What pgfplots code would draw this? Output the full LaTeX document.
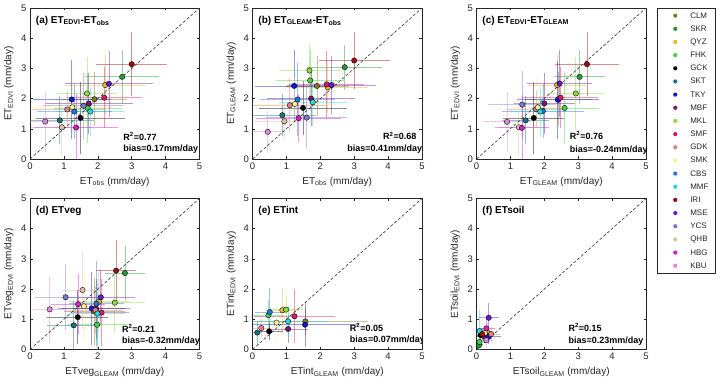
\documentclass[border=0pt]{standalone}
\usepackage{fontspec}
\setmainfont{Liberation Sans}
\usepackage{pgfplots}
\usepackage{pgfplotstable}
\pgfplotsset{compat=1.18}

\definecolor{c0}{rgb}{0.50,0.47,0.15}
\definecolor{c1}{rgb}{0.15,0.60,0.20}
\definecolor{c2}{rgb}{0.93,0.72,0.15}
\definecolor{c3}{rgb}{0.25,0.82,0.25}
\definecolor{c4}{rgb}{0,0,0}
\definecolor{c5}{rgb}{0.10,0.45,0.47}
\definecolor{c6}{rgb}{0.05,0.10,0.80}
\definecolor{c7}{rgb}{0.45,0.10,0.45}
\definecolor{c8}{rgb}{0.55,0.85,0.25}
\definecolor{c9}{rgb}{0.85,0.10,0.40}
\definecolor{c10}{rgb}{0.88,0.50,0.50}
\definecolor{c11}{rgb}{0.98,0.95,0.55}
\definecolor{c12}{rgb}{0.15,0.45,0.85}
\definecolor{c13}{rgb}{0.15,0.85,0.88}
\definecolor{c14}{rgb}{0.60,0.05,0.05}
\definecolor{c15}{rgb}{0.40,0.10,0.80}
\definecolor{c16}{rgb}{0.47,0.47,0.82}
\definecolor{c17}{rgb}{0.87,0.75,0.67}
\definecolor{c18}{rgb}{0.82,0.12,0.80}
\definecolor{c19}{rgb}{0.87,0.52,0.87}
\colorlet{axgray}{black!85}

% (a) ET_EDVI vs ET_obs
\pgfplotstableread{
x y ex ey
1.90 1.98 0.95 0.90
2.72 2.72 1.10 0.90
2.22 2.45 1.20 1.00
1.70 1.69 1.00 1.15
1.49 1.36 1.30 1.20
0.88 1.28 1.00 0.80
1.23 1.97 1.15 1.30
1.73 1.84 1.30 1.00
1.68 2.17 0.90 1.20
2.19 2.03 1.10 1.00
1.10 1.64 1.10 0.60
1.25 1.71 1.20 1.00
1.31 1.57 1.10 0.90
1.78 1.57 1.00 0.80
3.00 3.14 1.05 1.05
2.33 2.49 1.30 1.10
1.58 1.76 1.20 1.10
0.94 1.05 0.90 1.00
1.36 1.04 1.25 1.10
0.45 1.24 0.50 1.00
}\tabA
% (b) ET_GLEAM vs ET_obs
\pgfplotstableread{
x y ex ey
1.90 2.42 0.95 1.00
2.72 3.04 1.10 0.75
2.22 2.38 1.20 0.85
1.70 2.60 1.00 1.00
1.49 1.69 1.30 0.90
0.88 1.45 1.00 0.70
1.23 2.42 1.15 1.20
1.73 2.00 1.30 0.90
1.68 2.93 0.90 0.85
2.19 2.47 1.10 1.10
1.10 1.78 1.10 0.90
1.25 1.82 1.20 0.90
1.33 1.97 1.10 1.20
1.78 1.88 1.00 0.80
3.00 3.26 1.05 0.95
2.33 2.45 1.30 0.95
1.60 1.37 1.20 1.00
0.94 1.25 0.90 0.60
1.36 1.35 1.25 0.80
0.45 0.90 0.50 0.70
}\tabB
% (c) ET_EDVI vs ET_GLEAM
\pgfplotstableread{
x y ex ey
2.42 1.98 1.00 0.90
3.04 2.72 0.75 0.90
2.38 2.45 0.85 1.00
2.60 1.69 1.00 1.15
1.69 1.36 0.90 1.20
1.45 1.28 0.70 0.80
2.40 1.96 1.20 1.30
2.00 1.84 0.90 1.00
2.93 2.17 0.85 1.20
2.48 2.03 1.10 1.00
1.76 1.65 0.90 0.60
1.81 1.71 0.90 1.00
1.96 1.59 1.20 0.90
1.88 1.57 0.80 0.80
3.26 3.14 0.95 1.05
2.45 2.50 0.95 1.10
1.35 1.80 1.00 1.10
1.25 1.05 0.60 1.00
1.34 1.03 0.80 1.10
0.90 1.23 0.70 1.00
}\tabC
% (d) ETveg
\pgfplotstableread{
x y ex ey
1.89 1.26 0.90 1.10
2.80 2.53 0.60 0.90
2.03 1.58 0.90 1.00
1.98 0.82 0.90 1.00
1.41 1.07 0.90 0.90
1.29 0.80 0.80 0.80
1.82 1.36 1.00 1.20
1.95 1.35 1.00 1.00
2.50 1.55 0.90 1.00
2.11 1.22 0.80 1.10
1.93 1.30 0.80 0.80
1.59 1.43 0.90 1.10
1.96 1.52 0.80 1.40
1.99 1.19 0.80 1.00
2.54 2.61 0.60 1.00
2.09 1.73 1.00 0.90
1.05 1.73 0.90 1.10
1.55 1.97 0.60 1.30
1.42 1.50 0.80 1.00
0.58 1.33 0.50 1.10
}\tabD
% (e) ETint
\pgfplotstableread{
x y ex ey
1.56 0.93 1.85 0.45
nan nan nan nan
0.88 1.30 0.50 0.75
0.47 1.14 0.45 0.50
0.49 0.60 0.40 0.30
0.14 0.56 0.15 0.40
1.55 0.82 1.60 0.75
1.05 0.68 0.60 0.45
0.99 1.32 0.50 0.50
1.24 1.10 1.20 0.90
0.26 0.71 0.30 0.30
0.71 0.89 0.50 0.60
0.51 1.24 0.45 0.80
1.05 0.93 1.15 0.50
}\tabE
% (f) ETsoil
\pgfplotstableread{
x y ex ey
0.22 0.50 0.15 0.20
0.07 0.14 0.05 0.15
0.31 0.59 0.15 0.30
0.09 0.25 0.08 0.20
0.12 0.48 0.10 0.20
nan nan nan nan
0.36 0.42 0.35 0.25
0.20 0.45 0.15 0.20
nan nan nan nan
nan nan nan nan
0.43 0.51 0.25 0.25
0.25 0.55 0.15 0.30
nan nan nan nan
0.09 0.61 0.08 0.70
0.17 0.51 0.10 0.20
0.36 1.05 0.30 0.50
nan nan nan nan
nan nan nan nan
0.29 0.70 0.25 0.40
0.29 0.31 0.20 0.25
}\tabF

\pgfplotsset{
  panel/.style={
    scale only axis, width=169.5pt, height=151pt, anchor=south west,
    xmin=0, xmax=5, ymin=0, ymax=5,
    xtick={0,1,2,3,4,5}, ytick={0,1,2,3,4,5},
    tick align=inside, major tick length=2.5pt,
    axis line style={line width=0.6pt, axgray},
    tick style={line width=0.5pt, axgray},
    /pgf/number format/assume math mode=true,
    tick label style={font=\fontsize{9.5}{11}\selectfont, text=axgray},
    label style={font=\fontsize{10}{12}\selectfont, text=axgray},
    xlabel style={at={(axis description cs:0.5,-0.15)}, anchor=center},
    ylabel style={at={(axis description cs:-0.125,0.5)}, anchor=center},
  },
}
\tikzset{
  ann/.style={anchor=base west, inner sep=0pt, font=\bfseries\fontsize{9}{11}\selectfont},
  ttl/.style={anchor=base west, inner sep=0pt, font=\bfseries\fontsize{10}{12}\selectfont},
}

\newcommand{\errpass}[2]{%
  \pgfplotsinvokeforeach{#2}{
    \addplot[forget plot, draw=none, mark=none,
      restrict expr to domain={\coordindex}{##1:##1},
      error bars/.cd, x dir=both, x explicit, y dir=both, y explicit,
      error mark=none,
      error bar style={draw=c##1, opacity=0.45, line width=0.8pt}]
      table[x=x, y=y, x error=ex, y error=ey] {#1};
  }%
}
\newcommand{\markpass}[2]{%
  \pgfplotsinvokeforeach{#2}{
    \addplot[only marks, mark=*, mark size=2.7pt, draw=black, fill=c##1,
      line width=0.35pt,
      restrict expr to domain={\coordindex}{##1:##1}]
      table[x=x, y=y] {#1};
  }%
}
\newcommand{\oneone}{\addplot[forget plot, black!80, line width=0.6pt, dash pattern=on 3pt off 2pt] coordinates {(0,0) (5,5)};}

\begin{document}
\begin{tikzpicture}[x=1pt,y=1pt]
\useasboundingbox (0,0) rectangle (720,387);

% (a)
\begin{axis}[panel, at={(30pt,228pt)},
  xlabel={ET\textsubscript{obs} (mm/day)}, ylabel={ET\textsubscript{EDVI} (mm/day)}]
\errpass{\tabA}{0,...,19}
\oneone
\markpass{\tabA}{0,...,19}
\node[ttl] at (axis cs:0.17,4.49) {(a) ET\textsubscript{EDVI}-ET\textsubscript{obs}};
\node[ann] at (axis cs:2.75,0.62) {R\textsuperscript{2}=0.77};
\node[ann] at (axis cs:2.75,0.25) {bias=0.17mm/day};
\end{axis}

% (b)
\begin{axis}[panel, at={(252.5pt,228pt)},
  xlabel={ET\textsubscript{obs} (mm/day)}, ylabel={ET\textsubscript{GLEAM} (mm/day)}]
\errpass{\tabB}{0,...,19}
\oneone
\markpass{\tabB}{0,...,19}
\node[ttl] at (axis cs:0.17,4.49) {(b) ET\textsubscript{GLEAM}-ET\textsubscript{obs}};
\node[ann] at (axis cs:3.85,0.63) {R\textsuperscript{2}=0.68};
\node[ann] at (axis cs:2.79,0.26) {bias=0.41mm/day};
\end{axis}

% (c)
\begin{axis}[panel, at={(476.5pt,228pt)},
  xlabel={ET\textsubscript{GLEAM} (mm/day)}, ylabel={ET\textsubscript{EDVI} (mm/day)},
  legend entries={CLM,SKR,QYZ,FHK,GCK,SKT,TKY,MBF,MKL,SMF,GDK,SMK,CBS,MMF,IRI,MSE,YCS,QHB,HBG,KBU},
  legend image code/.code={\path[draw=none,fill=none] (-18pt,-3.5pt) rectangle (15pt,3.5pt);
     \draw[#1, mark size=2.1pt, draw opacity=0] plot coordinates {(0pt,0pt)};},
  legend cell align=left,
  legend style={at={(1.065,1.0)}, anchor=north west, draw=axgray, line width=0.5pt,
     fill=white, inner xsep=0pt, inner ysep=3.9pt, row sep=6.16pt,
     font=\fontsize{8}{9}\selectfont, text=axgray,
     nodes={inner sep=0pt, text height=6pt, text depth=1pt, text width=25pt, align=left}},
  ]
\errpass{\tabC}{0,...,19}
\oneone
\markpass{\tabC}{0,...,19}
\node[ttl] at (axis cs:0.17,4.49) {(c) ET\textsubscript{EDVI}-ET\textsubscript{GLEAM}};
\node[ann] at (axis cs:2.75,0.64) {R\textsuperscript{2}=0.76};
\node[ann] at (axis cs:2.75,0.23) {bias=-0.24mm/day};
\end{axis}

% (d)
\begin{axis}[panel, at={(30pt,37.5pt)},
  xlabel={ETveg\textsubscript{GLEAM} (mm/day)}, ylabel={ETveg\textsubscript{EDVI} (mm/day)}]
\errpass{\tabD}{0,...,19}
\oneone
\markpass{\tabD}{0,...,19}
\node[ttl] at (axis cs:0.17,4.49) {(d) ETveg};
\node[ann] at (axis cs:2.71,0.57) {R\textsuperscript{2}=0.21};
\node[ann] at (axis cs:2.71,0.20) {bias=-0.32mm/day};
\end{axis}

% (e)
\begin{axis}[panel, at={(252.5pt,37.5pt)},
  xlabel={ETint\textsubscript{GLEAM} (mm/day)}, ylabel={ETint\textsubscript{EDVI} (mm/day)}]
\errpass{\tabE}{0,2,3,4,5,6,7,8,9,10,11,12,13}
\oneone
\markpass{\tabE}{0,2,3,4,5,6,7,8,9,10,11,12,13}
\node[ttl] at (axis cs:0.17,4.49) {(e) ETint};
\node[ann] at (axis cs:2.87,0.60) {R\textsuperscript{2}=0.05};
\node[ann] at (axis cs:2.87,0.23) {bias=0.07mm/day};
\end{axis}

% (f)
\begin{axis}[panel, at={(476.5pt,37.5pt)},
  xlabel={ETsoil\textsubscript{GLEAM} (mm/day)}, ylabel={ETsoil\textsubscript{EDVI} (mm/day)}]
\errpass{\tabF}{0,1,2,3,4,6,7,10,11,13,14,15,18,19}
\oneone
\markpass{\tabF}{0,1,2,3,4,6,7,10,11,13,14,15,18,19}
\node[ttl] at (axis cs:0.17,4.49) {(f) ETsoil};
\node[ann] at (axis cs:2.71,0.59) {R\textsuperscript{2}=0.15};
\node[ann] at (axis cs:2.71,0.20) {bias=0.23mm/day};
\end{axis}

\end{tikzpicture}
\end{document}
